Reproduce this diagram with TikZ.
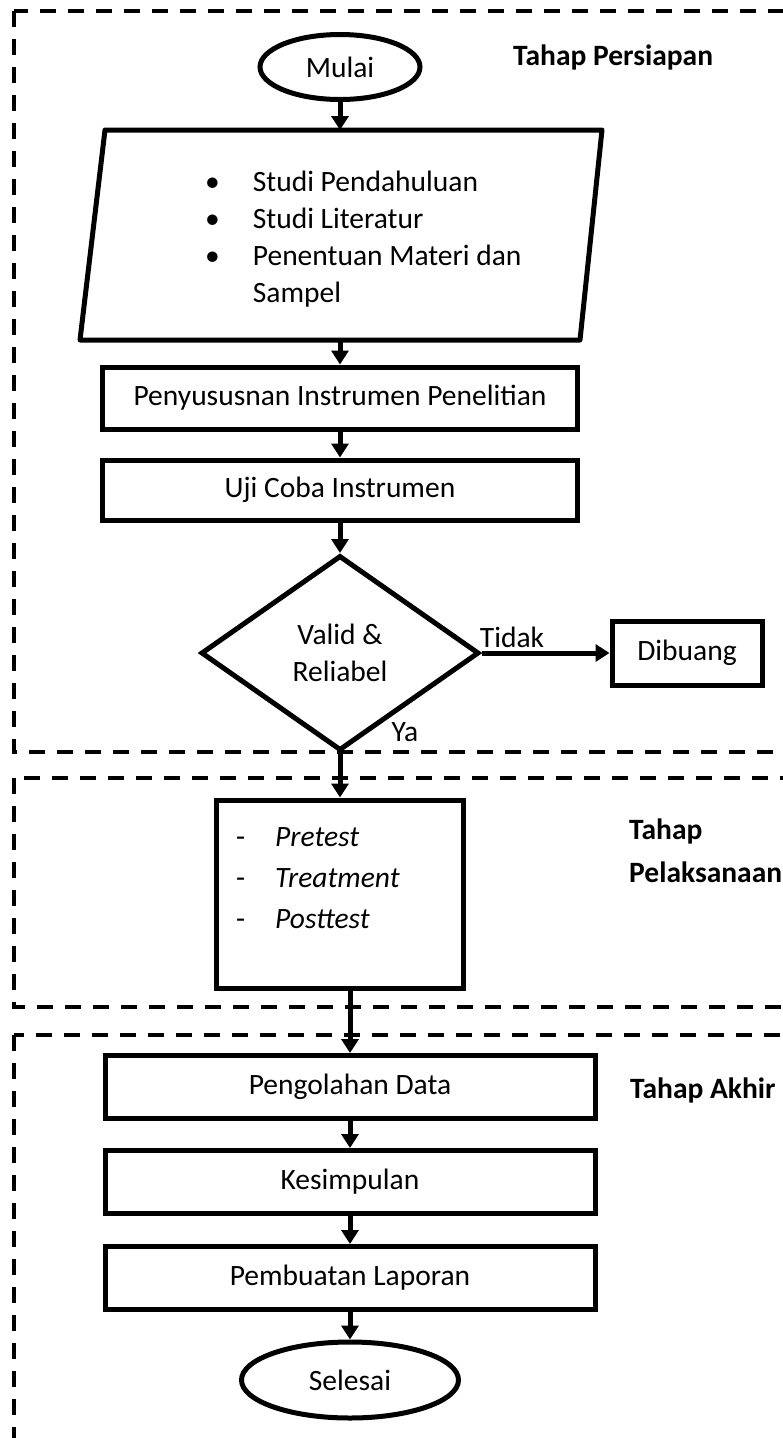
\documentclass[tikz,border=0pt]{standalone}
\usepackage{fontspec}
\setmainfont{Carlito}
\usetikzlibrary{positioning,shapes.geometric,arrows.meta}

\tikzset{
  texto/.style={font=\fontsize{29.5}{37}\selectfont},
  caja/.style={draw, line width=5pt, texto, inner sep=0pt},
  flecha/.style={line width=5pt, -{Triangle[length=14pt,width=17pt]}},
  tahap/.style={texto, font=\fontsize{29.5}{43}\selectfont\bfseries, anchor=west, align=left, inner sep=0pt},
  fase/.style={dash pattern=on 16pt off 12pt, line width=4pt}
}

\begin{document}
\begin{tikzpicture}[x=1pt,y=-1pt]
	\useasboundingbox (0,0) rectangle (783,1438);
	\clip (0,0) rectangle (783,1438);

	% Dibujar las fases
	\draw[fase] (14,11) rectangle (820,752);
	\draw[fase] (14,778) rectangle (820,1007);
	\draw[fase] (14,1035) rectangle (820,1480);

	% Tahap Persiapan
	\node[caja, ellipse, minimum width=160pt, minimum height=65pt] (mulai) at (340,67) {Mulai};
	\draw[line width=5pt, line join=round] (105,130) -- (602,130) -- (580,340) -- (80,340) -- cycle;
	\coordinate (studi-n) at (340,130);
	\coordinate (studi-s) at (340,340);
	\node[texto, anchor=north west, inner sep=0pt] (lista) at (205,165) {%
	    \begin{tabular}{@{}l@{\hspace{33pt}}l@{}}
	    \textbullet & Studi Pendahuluan\\
	    \textbullet & Studi Literatur\\
	    \textbullet & Penentuan Materi dan\\
	                & Sampel
	    \end{tabular}};
	\node[caja, minimum width=475pt, minimum height=62pt] (susun) at (340,398) {Penyususnan Instrumen Penelitian};
	\node[caja, minimum width=475pt, minimum height=60pt] (uji) at (340,490) {Uji Coba Instrumen};
	\node[caja, diamond, minimum width=278pt, minimum height=195pt, align=center] (valid) at (340,653) {Valid \&\\Reliabel};
	\node[caja, minimum width=150pt, minimum height=64pt] (buang) at (687,653) {Dibuang};
	\node[texto] (tidak) at (512,637) {Tidak};
	\node[texto] (ya) at (405,732) {Ya};
	\node[tahap] (persiapan) at (513,57) {Tahap Persiapan};

	% Tahap Pelaksanaan
	\node[caja, minimum width=247pt, minimum height=188pt] (uji2) at (340,894) {};
	\node[texto, anchor=north west, inner sep=0pt, font=\fontsize{29.5}{41}\selectfont] (lista2) at (236,818) {%
	    \begin{tabular}{@{}l@{\hspace{30pt}}l@{}}
	    - & \textit{Pretest}\\
	    - & \textit{Treatment}\\
	    - & \textit{Posttest}
	    \end{tabular}};
	\node[tahap] (pelaksanaan) at (629,851) {Tahap\\Pelaksanaan};

	% Tahap Akhir
	\node[caja, minimum width=490pt, minimum height=63pt] (olah) at (350,1087) {Pengolahan Data};
	\node[caja, minimum width=490pt, minimum height=63pt] (simpul) at (350,1182) {Kesimpulan};
	\node[caja, minimum width=490pt, minimum height=63pt] (lapor) at (350,1278) {Pembuatan Laporan};
	\node[caja, ellipse, minimum width=217pt, minimum height=76pt] (selesai) at (350,1380) {Selesai};
	\node[tahap] (akhir) at (630,1090) {Tahap Akhir};

	% Dibujar las flechas
	\foreach \a/\b in {mulai.south/studi-n, studi-s/susun.north, susun.south/uji.north,
	                   uji.south/valid.north, valid.south/uji2.north,
	                   olah.south/simpul.north, simpul.south/lapor.north, lapor.south/selesai.north} {
	    \draw[flecha] (\a) -- (\b);
	}
	\draw[flecha] (uji2.south -| olah.north) -- (olah.north);
	\draw[flecha] (valid.east) -- (buang.west);
\end{tikzpicture}
\end{document}
